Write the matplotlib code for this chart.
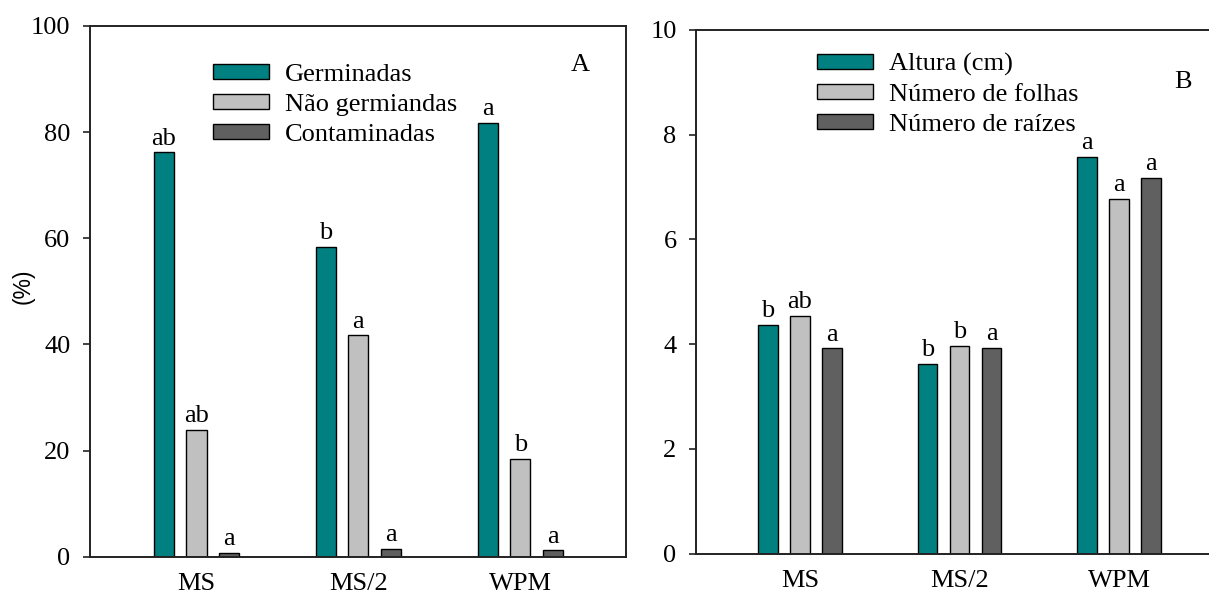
import numpy as np
import matplotlib
matplotlib.use("Agg")
from matplotlib import pyplot as plt
from matplotlib.patches import Patch

# data
groups = ["MS", "MS/2", "WPM"]

germinadas = [76.2, 58.4, 81.7]
nao_germinadas = [23.9, 41.7, 18.4]
contaminadas = [0.7, 1.5, 1.2]
letters_a = [["ab", "b", "a"], ["ab", "a", "b"], ["a", "a", "a"]]
labels_a = ["Germinadas", "Não germiandas", "Contaminadas"]

altura = [4.37, 3.62, 7.57]
folhas = [4.54, 3.97, 6.77]
raizes = [3.92, 3.93, 7.17]
letters_b = [["b", "b", "a"], ["ab", "b", "a"], ["a", "a", "a"]]
labels_b = ["Altura (cm)", "Número de folhas", "Número de raízes"]

colors = ["#008080", "#c0c0c0", "#606060"]

plt.rcParams['font.family'] = ['Liberation Serif', 'DejaVu Serif']
FS = 19

W, H = 1209, 600
fig = plt.figure(figsize=(W / 100, H / 100), dpi=100)

def px_axes(l, t, r, b):
    return fig.add_axes([l / W, 1 - b / H, (r - l) / W, (b - t) / H])

ax1 = px_axes(90, 26, 626, 556.8)
ax2 = px_axes(696, 29.8, 1209, 553.8)

x = np.arange(len(groups))
bw = 0.124
off = 0.201

def draw_panel(ax, series, letters, ymax, step, xlim):
    for i, (vals, lets) in enumerate(zip(series, letters)):
        pos = x + (i - 1) * off
        bars = ax.bar(pos, vals, width=bw, color=colors[i], edgecolor="black", linewidth=1.0, zorder=2)
        for b, t in zip(bars, lets):
            ax.annotate(t, (b.get_x() + b.get_width() / 2, b.get_height()),
                        xytext=(0, 2), textcoords="offset points",
                        ha="center", va="bottom", fontsize=FS)
    ax.set_ylim(0, ymax)
    ax.set_xlim(*xlim)
    ax.set_yticks(np.arange(0, ymax + step / 2, step))
    ax.set_xticks(x)
    ax.set_xticklabels(groups)
    ax.tick_params(axis="y", direction="out", length=5, width=1.2, pad=9, labelsize=FS, colors="#222222", labelcolor="black")
    ax.tick_params(axis="x", length=0, pad=12, labelsize=FS)
    for s in ax.spines.values():
        s.set_linewidth(1.4)
        s.set_color("#222222")

draw_panel(ax1, [germinadas, nao_germinadas, contaminadas], letters_a, 100, 20, (-0.658, 2.653))
draw_panel(ax2, [altura, folhas, raizes], letters_b, 10, 2, (-0.652, 2.564))
ax2.spines["right"].set_visible(False)

fig.text(23 / W, 1 - 286 / H, "(%)", rotation=90, ha="center", va="center",
         fontsize=16.5, family=["Liberation Sans", "DejaVu Sans"])

def add_legend(ax, labels, left_px, top_px):
    handles = [Patch(facecolor=c, edgecolor="black", linewidth=1.0) for c in colors]
    ax.legend(handles, labels, loc="upper left",
              bbox_to_anchor=(left_px / W, 1 - top_px / H), bbox_transform=fig.transFigure,
              frameon=False, fontsize=FS, borderpad=0, borderaxespad=0,
              handlelength=2.12, handleheight=0.47, handletextpad=0.6, labelspacing=0.3)

add_legend(ax1, labels_a, 213, 64)
add_legend(ax2, labels_b, 817, 53)

ax1.text(0.914, 0.9265, "A", transform=ax1.transAxes, ha="center", va="center", fontsize=FS)
ax2.text(0.949, 0.900, "B", transform=ax2.transAxes, ha="center", va="center", fontsize=FS)

fig.savefig("out.png", dpi=100)
